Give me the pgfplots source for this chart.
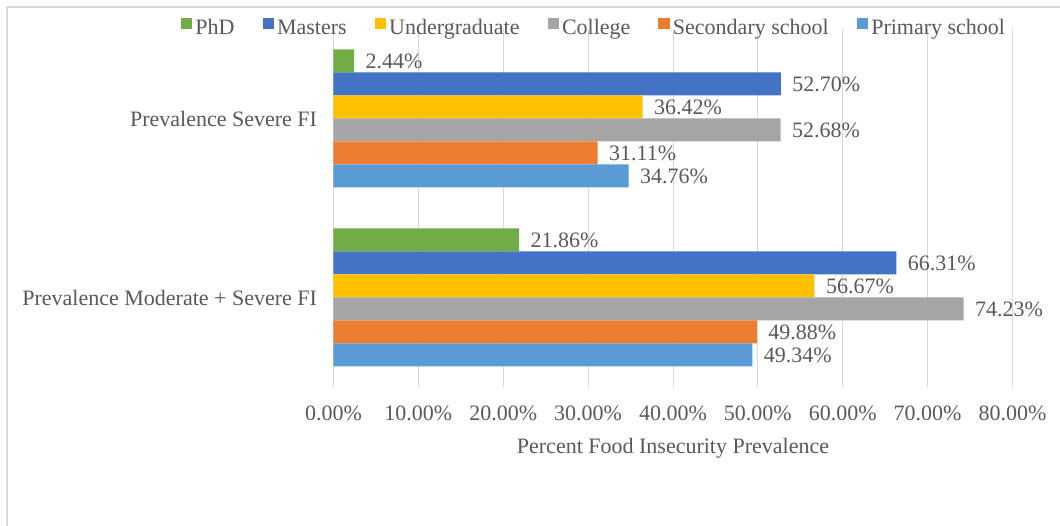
\documentclass[border=0pt]{standalone}
\usepackage{fontspec}
\setmainfont{Liberation Serif}
\usepackage{pgfplots}
\pgfplotsset{compat=1.18}
\definecolor{phd}{HTML}{70AD47}
\definecolor{mas}{HTML}{4472C4}
\definecolor{und}{HTML}{FFC000}
\definecolor{col}{HTML}{A5A5A5}
\definecolor{sec}{HTML}{ED7D31}
\definecolor{pri}{HTML}{5B9BD5}
\definecolor{txt}{HTML}{595959}
\definecolor{grd}{HTML}{D9D9D9}
\newcommand{\cf}{\fontsize{22}{26}\selectfont}
\begin{document}
\begin{tikzpicture}[font=\cf]
\useasboundingbox (0,0) rectangle (1060pt,525pt);
\draw[grd, line width=1.5pt] (7pt,-20pt) -- (7pt,518pt) -- (1080pt,518pt);
\begin{axis}[
  at={(333.5pt,138pt)}, anchor=south west,
  scale only axis, width=679pt, height=358pt,
  xmin=0, xmax=80, ymin=-0.5, ymax=1.5,
  xtick={0,10,...,80},
  xticklabels={0.00\%,10.00\%,20.00\%,30.00\%,40.00\%,50.00\%,60.00\%,70.00\%,80.00\%},
  ytick={0,1},
  yticklabels={Prevalence Moderate + Severe FI, Prevalence Severe FI},
  xmajorgrids, grid style={grd, line width=1pt},
  axis line style={draw=none},
  major tick length=0pt,
  tick label style={font=\cf, text=txt},
  xticklabel style={anchor=base, yshift=-34pt},
  yticklabel style={anchor=east, xshift=-13pt},
  xlabel={Percent Food Insecurity Prevalence},
  xlabel style={at={(axis description cs:0.5,0)}, anchor=base, yshift=-66pt, text=txt, font=\cf},
  xbar, bar width=23pt,
  point meta=x,
  nodes near coords={\pgfmathprintnumber[fixed,fixed zerofill,precision=2,assume math mode=true]{\pgfplotspointmeta}\%},
  every node near coord/.append style={anchor=west, text=txt, font=\cf, xshift=8pt},
  legend columns=-1,
  legend style={at={(axis description cs:0.3837,1.0028)}, anchor=center, draw=none, fill=none, text=txt, font=\cf,
    /tikz/every even column/.append style={column sep=26pt}},
  legend image code/.code={\fill[#1] (0pt,-1pt) rectangle (11.5pt,10.5pt); \path (0pt,0pt) -- (12.5pt,0pt);},
  clip=false,
]
\addplot[fill=phd, draw=none, bar shift=57.5pt] coordinates {(21.86,0) (2.44,1)};
\addplot[fill=mas, draw=none, bar shift=34.5pt] coordinates {(66.31,0) (52.70,1)};
\addplot[fill=und, draw=none, bar shift=11.5pt] coordinates {(56.67,0) (36.42,1)};
\addplot[fill=col, draw=none, bar shift=-11.5pt] coordinates {(74.23,0) (52.68,1)};
\addplot[fill=sec, draw=none, bar shift=-34.5pt] coordinates {(49.88,0) (31.11,1)};
\addplot[fill=pri, draw=none, bar shift=-57.5pt] coordinates {(49.34,0) (34.76,1)};
\legend{PhD, Masters, Undergraduate, College, Secondary school, Primary school}
\end{axis}
\end{tikzpicture}
\end{document}
